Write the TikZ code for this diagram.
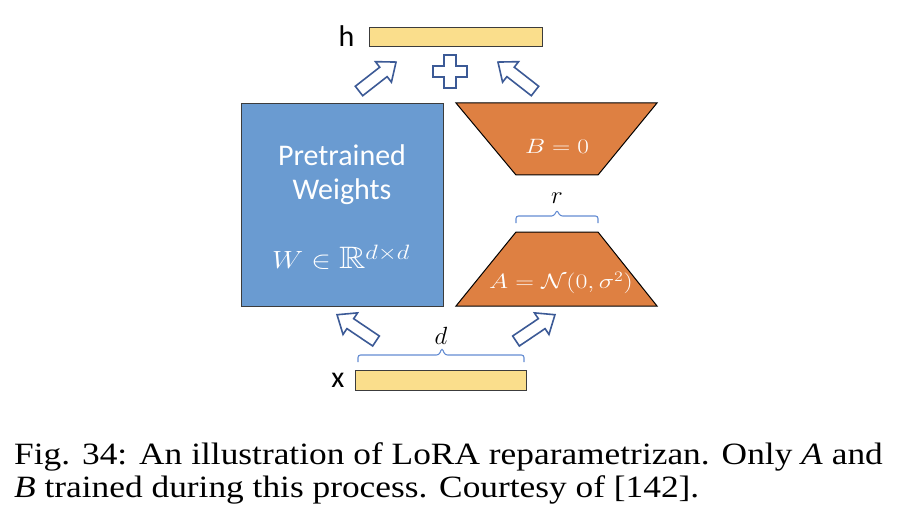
\documentclass[tikz,border=0pt]{standalone}
\usepackage{amsmath,amssymb}
\usepackage{graphicx}
\usepackage{fontspec}
\setmainfont{Liberation Serif}
\newfontfamily\carlito{Carlito}
\definecolor{wblue}{RGB}{106,155,209}
\definecolor{lorange}{RGB}{222,128,66}
\definecolor{vyellow}{RGB}{250,222,140}
\definecolor{arrblue}{RGB}{60,90,150}
\definecolor{braceblue}{RGB}{100,140,210}
\definecolor{edgegray}{RGB}{60,60,60}
\tikzset{
  vecbar/.style={draw=edgegray,line width=1.2pt,fill=vyellow},
  wbox/.style={draw=edgegray,line width=1.2pt,fill=wblue},
  trap/.style={draw=black,line width=1pt,fill=lorange},
  boxtext/.style={text=white,font=\carlito\fontsize{30}{36}\selectfont,align=center},
  mathlbl/.style={text=white,font=\fontsize{21}{25}\selectfont},
  sidelbl/.style={font=\carlito\fontsize{30}{36}\selectfont},
  dimlbl/.style={font=\fontsize{26}{30}\selectfont},
  dimbrace/.style={draw=braceblue,line width=1.1pt,rounded corners=2.5pt},
  hollowarrow/.pic={
    \draw[arrblue,line width=1.6pt,fill=white,line join=miter]
      (0,-6) -- (31,-6) -- (31,-13) -- (47,0) -- (31,13) -- (31,6) -- (0,6) -- cycle;
  },
  captext/.style={font=\fontsize{31}{33}\selectfont,inner sep=0pt,anchor=base west}
}
\begin{document}
\begin{tikzpicture}[x=1pt,y=-1pt]
\useasboundingbox (0,0) rectangle (900,532);
% output bar
\node[vecbar,minimum width=173pt,minimum height=19pt,inner sep=0pt,anchor=north west] (hbar) at (369,27) {};
\node[sidelbl,anchor=east] (hlbl) at (358,36) {h};
% plus sign
\draw[arrblue,line width=1.6pt,fill=white,line join=miter]
  (444,55) -- (456,55) -- (456,66) -- (467,66) -- (467,77) -- (456,77) -- (456,88)
  -- (444,88) -- (444,77) -- (433,77) -- (433,66) -- (444,66) -- cycle;
\coordinate (plus) at (450,71);
% top arrows
\pic[rotate=38] at (359,91) {hollowarrow};
\pic[rotate=142] at (535,91) {hollowarrow};
% pretrained weights
\node[wbox,minimum width=202pt,minimum height=203pt,inner sep=0pt,anchor=north west] (W) at (241,103) {};
\node[boxtext] (wt1) at (342,155) {Pretrained};
\node[boxtext] (wt2) at (342,192) {Weights};
\node[text=white,font=\fontsize{31}{36}\selectfont] (wt3) at (341,257) {\scalebox{1.18}[1]{$W\in\mathbb{R}^{d\times d}$}};
% B trapezoid
\draw[trap] (456,103) -- (657,103) -- (598,175) -- (516,175) -- cycle;
\node[mathlbl] (Blbl) at (557,146) {\scalebox{1.22}[1]{$B=0$}};
% r brace
\coordinate (rl) at (516,223);
\coordinate (rr) at (598,223);
\draw[dimbrace] (rl) -- (516,216) -- (554,216) -- (557,210) -- (560,216) -- (598,216) -- (rr);
\node[dimlbl] (rlbl) at (557,198) {$r$};
% A trapezoid
\draw[trap] (516,232) -- (598,232) -- (657,306) -- (456,306) -- cycle;
\node[mathlbl,font=\fontsize{22}{26}\selectfont] (Albl) at (561,283) {\scalebox{1.25}[1]{$A=\mathcal{N}(0,\sigma^2)$}};
% bottom arrows
\pic[rotate=146] at (376,341) {hollowarrow};
\pic[rotate=34] at (516,341) {hollowarrow};
% d brace
\coordinate (dl) at (358,362);
\coordinate (dr) at (524,362);
\draw[dimbrace] (dl) -- (358,355) -- (439,355) -- (442,348) -- (445,355) -- (524,355) -- (dr);
\node[dimlbl] (dlbl) at (441,336) {$d$};
% input bar
\node[vecbar,minimum width=171pt,minimum height=20pt,inner sep=0pt,anchor=north west] (xbar) at (355,370) {};
\node[sidelbl,anchor=east] (xlbl) at (348,380) {x};
% caption
\node[captext] (cap1) at (14,464) {\scalebox{1.14}[1]{\makebox[762pt][s]{Fig. 34: An illustration of LoRA reparametrizan. Only \textit{A} and}}};
\node[captext] (cap2) at (14,497) {\scalebox{1.14}[1]{\textit{B} trained during this process. Courtesy of [142].}};
\end{tikzpicture}
\end{document}
